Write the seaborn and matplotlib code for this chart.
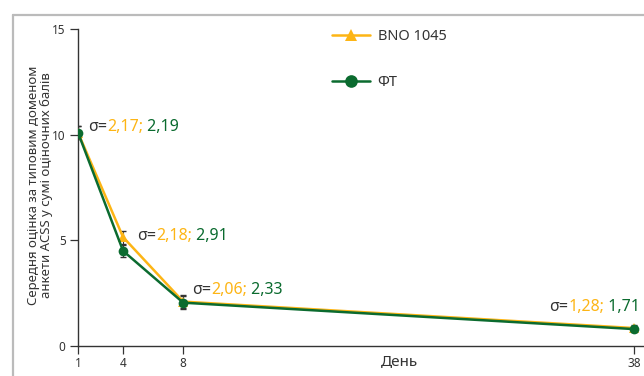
import matplotlib
matplotlib.use("Agg")
import matplotlib.pyplot as plt
import seaborn as sns
import pandas as pd
from matplotlib.lines import Line2D

days = [1, 4, 8, 38]
series_names = ["BNO 1045", "ФТ"]
bno_values = [10.1, 5.15, 2.1, 0.85]
ft_values = [10.1, 4.5, 2.05, 0.8]
bno_err = [0.3, 0.3, 0.3, 0.15]
ft_err = [0.3, 0.3, 0.3, 0.15]
sigma_bno = ["2,17;", "2,18;", "2,06;", "1,28;"]
sigma_ft = ["2,19", "2,91", "2,33", "1,71"]
x_ticks = [1, 4, 8, 38]
y_ticks = [0, 5, 10, 15]

YELLOW = "#FDB515"
GREEN = "#0B6B2F"
GRAY = "#333333"

sns.set_style("white")
plt.rcParams["font.family"] = ["Noto Sans", "DejaVu Sans"]

df = pd.DataFrame({
    "day": days * 2,
    "value": bno_values + ft_values,
    "group": [series_names[0]] * 4 + [series_names[1]] * 4,
})

fig = plt.figure(figsize=(6.44, 3.76), dpi=100)
ax = fig.add_axes([78 / 644, 30 / 376, 1 - 78 / 644 + 0.002, (346 - 29) / 376])

ax.errorbar(days, bno_values, yerr=bno_err, fmt="none", ecolor=GRAY, elinewidth=0.8, capsize=2, zorder=2)
ax.errorbar(days, ft_values, yerr=ft_err, fmt="none", ecolor=GRAY, elinewidth=0.8, capsize=2, zorder=2)

sns.lineplot(data=df, x="day", y="value", hue="group", style="group",
             hue_order=series_names, style_order=series_names,
             palette={series_names[0]: YELLOW, series_names[1]: GREEN},
             markers={series_names[0]: "^", series_names[1]: "o"},
             dashes=False, markersize=7, markeredgewidth=0, linewidth=1.8,
             ax=ax, zorder=3)

ax.set_xlim(1, 38.75)
ax.set_ylim(0, 15)
ax.set_xticks(x_ticks)
ax.set_xticklabels([str(t) for t in x_ticks])
ax.set_yticks(y_ticks)
ax.set_yticklabels([str(t) for t in y_ticks])
for s in ["top", "right"]:
    ax.spines[s].set_visible(False)
for s in ["left", "bottom"]:
    ax.spines[s].set_color(GRAY)
    ax.spines[s].set_linewidth(1.0)
ax.tick_params(axis="both", which="both", direction="out", length=6, width=0.9,
               color=GRAY, labelcolor=GRAY, labelsize=8.5, pad=2,
               bottom=True, left=True)
ax.tick_params(axis="y", pad=3)
ax.set_xlabel("")
ax.set_ylabel("")
ax.patch.set_alpha(0)

fig.text(400 / 644, 1 - 362 / 376, "День", fontsize=11, color=GRAY, ha="center", va="center")

fig.text(40 / 644, 1 - 185 / 376, "Середня оцінка за типовим доменом\nанкети ACSS у сумі оціночних балів",
         fontsize=9.5, color=GRAY, rotation=90, ha="center", va="center", linespacing=0.95)

ann_pos = [(1.65, 10.36), (4.93, 5.2), (8.6, 2.65), (32.35, 1.85)]
for (xa, ya), sb, sf in zip(ann_pos, sigma_bno, sigma_ft):
    t1 = ax.text(xa, ya, "σ=", fontsize=11.5, color=GRAY, ha="left", va="center")
    t2 = ax.annotate(sb, xy=(1, 0), xycoords=t1, fontsize=11.5, color=YELLOW, ha="left", va="bottom")
    t3 = ax.annotate(" " + sf, xy=(1, 0), xycoords=t2, fontsize=11.5, color=GREEN, ha="left", va="bottom")

leg = ax.legend(loc="upper left", bbox_to_anchor=((326 - 78) / 566, 1 + 6 / 317), frameon=False,
                fontsize=10.5, handlelength=2.6, labelspacing=2.15, borderaxespad=0,
                handletextpad=0.5, markerscale=1.3)
for t in leg.get_texts():
    t.set_color(GRAY)

fig.add_artist(Line2D([13 / 644, 1.0], [1 - 14.5 / 376] * 2, transform=fig.transFigure,
                      color="#BBBBBB", linewidth=1.6))
fig.add_artist(Line2D([13 / 644] * 2, [0, 1 - 14.5 / 376], transform=fig.transFigure,
                      color="#BBBBBB", linewidth=1.6))

fig.savefig("out.png", dpi=100)
